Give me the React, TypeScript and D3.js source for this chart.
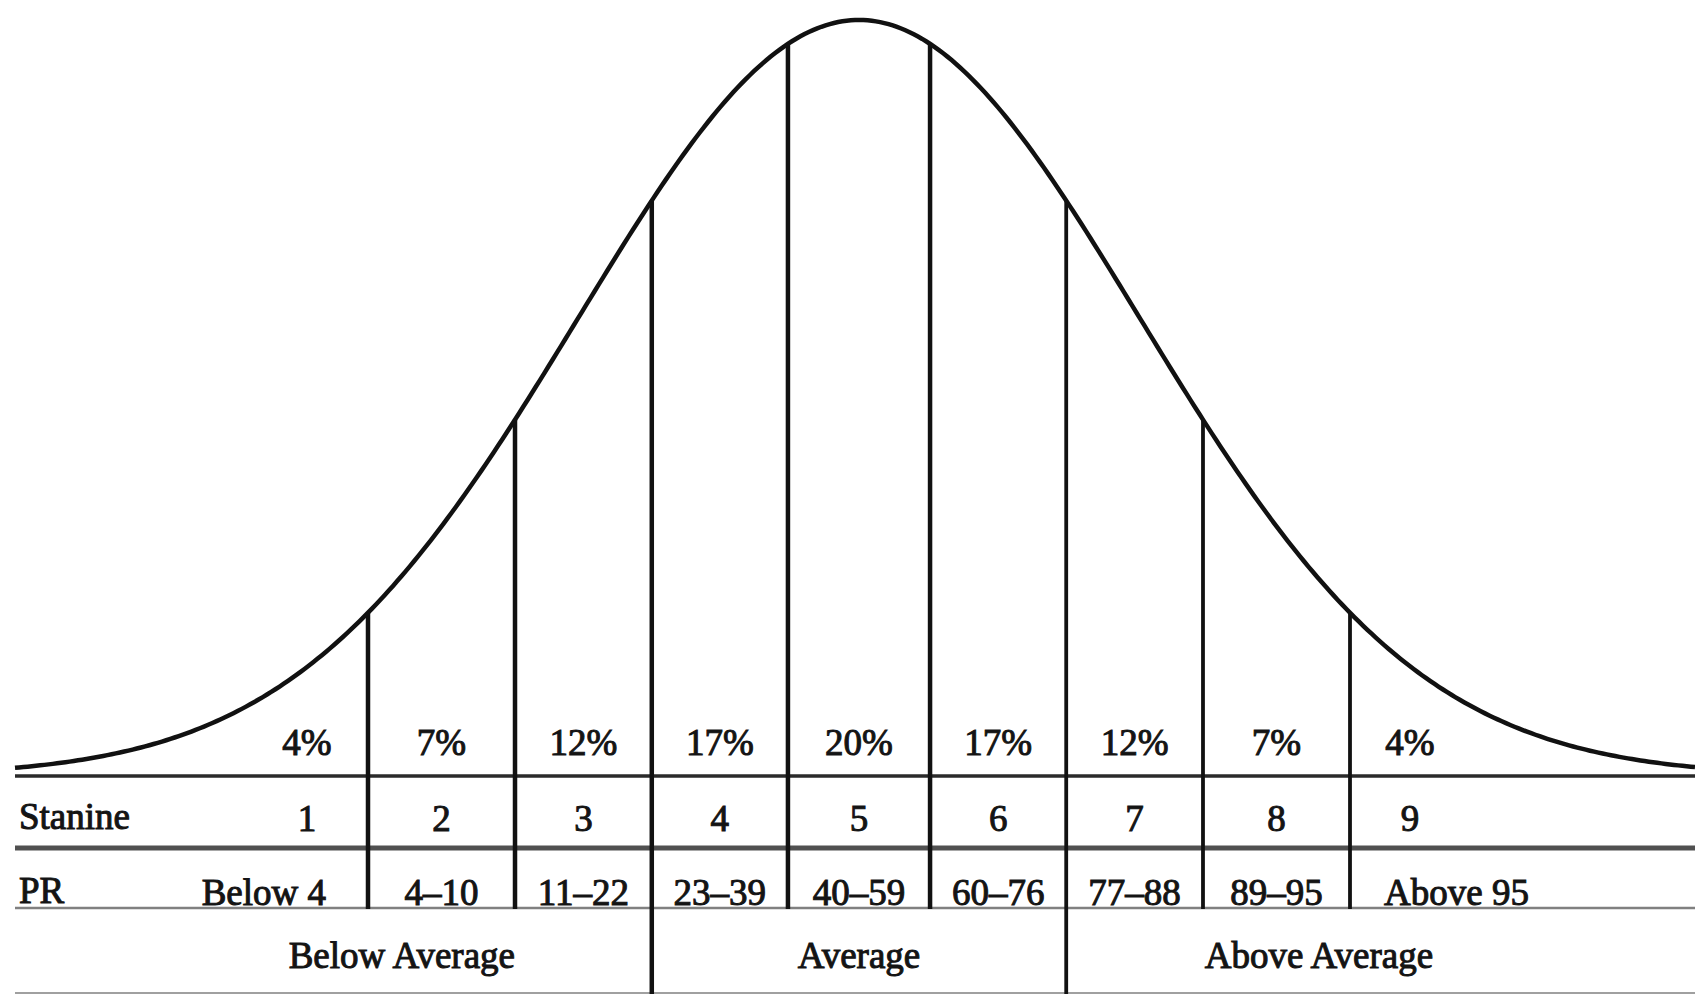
import React from "react";
import * as d3 from "d3";

// ---- data ----
const percentValues = [4, 7, 12, 17, 20, 17, 12, 7, 4];
const stanines = ["1", "2", "3", "4", "5", "6", "7", "8", "9"];
const prRanges = ["Below 4", "4–10", "11–22", "23–39", "40–59", "60–76", "77–88", "89–95", "Above 95"];
const groupLabels = ["Below Average", "Average", "Above Average"];
const groupCenters = [-1.63, 0, 1.64];
const groupBoundaryIndex = [2, 5]; // boundaries after stanine 3 and stanine 6
const rowLabels = ["Stanine", "PR"];

const W = 1695;
const H = 994;

// inverse standard normal CDF (Acklam)
function normInv(p: number): number {
  const a = [-39.69683028665376, 220.9460984245205, -275.9285104469687, 138.357751867269, -30.66479806614716, 2.506628277459239];
  const b = [-54.47609879822406, 161.5858368580409, -155.6989798598866, 66.80131188771972, -13.28068155288572];
  const c = [-0.007784894002430293, -0.3223964580411365, -2.400758277161838, -2.549732539343734, 4.374664141464968, 2.938163982698783];
  const d = [0.007784695709041462, 0.3224671290700398, 2.445134137142996, 3.754408661907416];
  const pl = 0.02425;
  if (p < pl) {
    const q = Math.sqrt(-2 * Math.log(p));
    return (((((c[0] * q + c[1]) * q + c[2]) * q + c[3]) * q + c[4]) * q + c[5]) / ((((d[0] * q + d[1]) * q + d[2]) * q + d[3]) * q + 1);
  }
  if (p > 1 - pl) {
    const q = Math.sqrt(-2 * Math.log(1 - p));
    return -(((((c[0] * q + c[1]) * q + c[2]) * q + c[3]) * q + c[4]) * q + c[5]) / ((((d[0] * q + d[1]) * q + d[2]) * q + d[3]) * q + 1);
  }
  const q = p - 0.5;
  const r = q * q;
  return ((((((a[0] * r + a[1]) * r + a[2]) * r + a[3]) * r + a[4]) * r + a[5]) * q) / (((((b[0] * r + b[1]) * r + b[2]) * r + b[3]) * r + b[4]) * r + 1);
}

export default function App() {
  const cum = d3.cumsum(percentValues);
  const boundaries = Array.from(cum.slice(0, cum.length - 1)).map((c) => normInv(c / 100));
  const bMin = boundaries[0];
  const bMax = boundaries[boundaries.length - 1];

  const x = d3.scaleLinear().domain([bMin, bMax]).range([368, 1350]);
  const y = d3.scaleLinear().domain([0, 1]).range([776, 20]);
  const pdf = (z: number) => Math.exp((-z * z) / 2);

  const bx = boundaries.map((b) => x(b));
  const cellCenters = percentValues.map((_, i) => {
    if (i === 0) return bx[0] - 61;
    if (i === percentValues.length - 1) return bx[bx.length - 1] + 60;
    return (bx[i - 1] + bx[i]) / 2;
  });

  const zMin = x.invert(15);
  const zMax = x.invert(W);
  const samples = d3.range(0, 401).map((i) => zMin + ((zMax - zMin) * i) / 400);
  const line = d3
    .line<number>()
    .x((z) => x(z))
    .y((z) => y(pdf(z)));

  const rowTop = 776;
  const rowStan = 848;
  const rowPR = 908;
  const rowBottom = 993;
  const left = 15;

  const font = "'Liberation Serif', 'Times New Roman', serif";
  const fs = 37;
  const textStyle = { fontFamily: font, fontSize: fs, fill: "#141414", stroke: "#141414", strokeWidth: 1 } as const;

  return (
    <svg width={W} height={H} style={{ position: "absolute", left: 0, top: 0, background: "#fff" }}>
      <rect x={0} y={0} width={W} height={H} fill="#fff" />
      {/* horizontal rules */}
      <line x1={left} x2={W} y1={rowTop} y2={rowTop} stroke="#2a2a2a" strokeWidth={3.5} />
      <line x1={left} x2={W} y1={rowStan} y2={rowStan} stroke="#505050" strokeWidth={5} />
      <line x1={left} x2={W} y1={rowPR} y2={rowPR} stroke="#808080" strokeWidth={2.5} />
      <line x1={left} x2={W} y1={rowBottom} y2={rowBottom} stroke="#a0a0a0" strokeWidth={2} />

      {/* vertical boundaries */}
      {boundaries.map((z, i) => {
        const isGroup = groupBoundaryIndex.includes(i);
        return (
          <line
            key={i}
            x1={x(z)}
            x2={x(z)}
            y1={y(pdf(z))}
            y2={isGroup ? H : rowPR + 1}
            stroke="#111"
            strokeWidth={i >= 5 ? 3.8 : 4.5}
          />
        );
      })}

      {/* bell curve */}
      <path d={line(samples) || ""} fill="none" stroke="#111" strokeWidth={4.5} />

      {/* percent row */}
      {percentValues.map((p, i) => (
        <text key={i} x={cellCenters[i]} y={755} textAnchor="middle" {...textStyle}>
          {`${p}%`}
        </text>
      ))}

      {/* stanine row */}
      <text x={19} y={829} {...textStyle}>
        {rowLabels[0]}
      </text>
      {stanines.map((s, i) => (
        <text key={i} x={cellCenters[i]} y={831} textAnchor="middle" {...textStyle}>
          {s}
        </text>
      ))}

      {/* PR row */}
      <text x={19} y={903} {...textStyle}>
        {rowLabels[1]}
      </text>
      {prRanges.map((r, i) => {
        let anchor: "start" | "middle" | "end" = "middle";
        let px = cellCenters[i];
        if (i === 0) {
          anchor = "end";
          px = bx[0] - 42;
        } else if (i === prRanges.length - 1) {
          anchor = "start";
          px = bx[bx.length - 1] + 34;
        }
        return (
          <text key={i} x={px} y={905} textAnchor={anchor} {...textStyle}>
            {r}
          </text>
        );
      })}

      {/* group row */}
      {groupLabels.map((g, i) => (
        <text key={i} x={x(groupCenters[i])} y={968} textAnchor="middle" {...textStyle}>
          {g}
        </text>
      ))}
    </svg>
  );
}
